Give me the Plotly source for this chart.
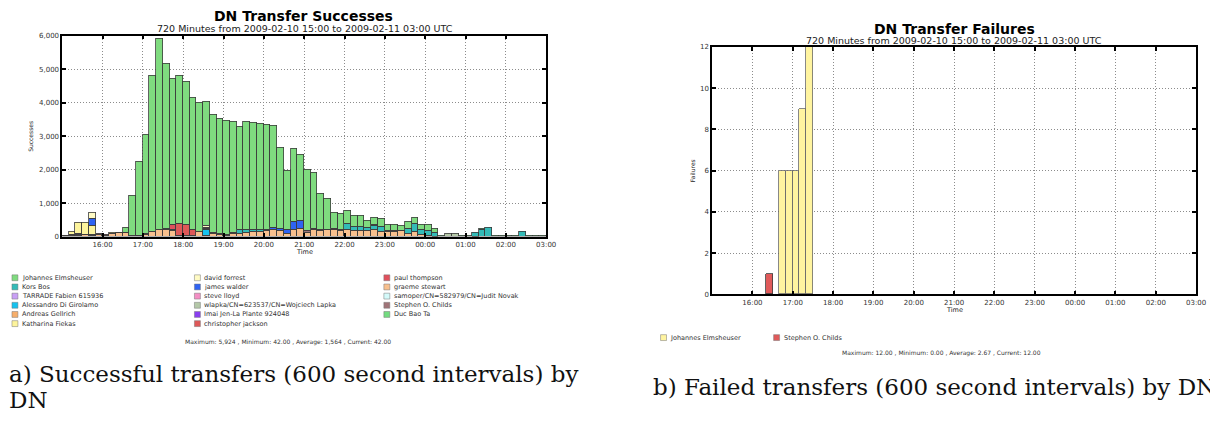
import pandas as pd
import plotly.graph_objects as go

# page is 1218x423; the browser adds an 8px body margin, so the figure is drawn 8px in
PAGE_W, PAGE_H = 1218, 423
OFF = 8
W, H = PAGE_W - OFF, PAGE_H - OFF

# ---------------- data: successes, 10-minute bins from 2009-02-10 15:00 ----------------
bin_start = "2009-02-10 15:00"
n_bins = 72
hour_labels = ["16:00", "17:00", "18:00", "19:00", "20:00", "21:00", "22:00",
               "23:00", "00:00", "01:00", "02:00", "03:00"]
y_ticks_a = [0, 1000, 2000, 3000, 4000, 5000, 6000]
y_ticks_b = [0, 2, 4, 6, 8, 10, 12]

johannes = [
    0, 0, 0, 0, 0, 0, 0, 0, 0, 140, 1200, 2210,
    2980, 4660, 5724, 4930, 4360, 4440, 4260, 3955, 3840, 3720, 3523, 3432,
    3392, 3313, 3070, 3220, 3190, 3155, 3110, 3020, 2410, 1780, 2170, 1980,
    1824, 1670, 1070, 916, 500, 490, 380, 320, 330, 210, 190, 240,
    180, 180, 140, 200, 170, 140, 160, 120, 0, 0, 0, 0,
    0, 0, 0, 0, 0, 0, 0, 0, 0, 0, 0, 0]
kors_bos = [
    0, 0, 0, 0, 0, 0, 0, 0, 0, 0, 0, 0,
    0, 0, 0, 40, 0, 0, 0, 0, 0, 0, 0, 0,
    0, 0, 130, 70, 70, 55, 50, 0, 0, 0, 0, 0,
    0, 0, 0, 0, 0, 0, 200, 110, 100, 100, 140, 160,
    0, 0, 20, 150, 250, 150, 170, 100, 0, 0, 0, 0,
    0, 100, 200, 270, 0, 0, 0, 0, 150, 0, 0, 0]
tarrade = [0, 0, 30] + [0] * 69
alessandro = [0] * 16 + [20, 0, 0, 0, 0, 180] + [0] * 50
andreas = [0] * 46 + [30] + [0] * 25
katharina = [0, 100, 320, 335, 270, 0, 0, 25] + [0] * 64
david = [0, 0, 0, 0, 175] + [0] * 16 + [40] + [0] * 50
james = [0, 0, 0, 0, 215] + [0] * 26 + [80, 70, 100, 230, 230] + [0] * 36
steve = [0] * 21 + [30] + [0] * 50
wlapka = [0] * 57 + [78, 78] + [0] * 13
imai = [0, 0, 25] + [0] * 69
christopher = [0] * 17 + [340, 330, 175] + [0] * 52
paul = [0] * 16 + [170] + [0] * 55
graeme = [
    20, 40, 30, 50, 40, 50, 40, 100, 110, 110, 30, 20,
    60, 160, 200, 200, 180, 40, 40, 30, 150, 30, 100, 50,
    40, 80, 80, 130, 150, 150, 170, 200, 180, 100, 220, 250,
    130, 220, 180, 200, 200, 180, 200, 190, 190, 180, 200, 140,
    150, 150, 170, 100, 150, 60, 20, 10, 0, 0, 0, 0,
    0, 0, 0, 0, 0, 0, 0, 0, 0, 0, 0, 0]
samoper = [0] * 21 + [40] + [0] * 50
stephen = [
    20, 20, 0, 20, 15, 30, 20, 0, 15, 10, 0, 20,
    20, 0, 0, 0, 0, 0, 0, 0, 0, 0, 27, 28,
    18, 27, 0, 0, 0, 0, 0, 0, 0, 0, 0, 0,
    36, 30, 40, 24, 30, 30, 0, 0, 0, 0, 0, 0,
    20, 20, 0, 0, 0, 0, 0, 0, 0, 0, 0, 0,
    0, 10, 0, 0, 0, 0, 0, 0, 0, 0, 0, 0]
duc = [0] * 56 + [45, 0, 0, 40, 40, 0, 55, 0, 40, 40, 40, 40, 0, 40, 42, 42]

# ---------------- data: failures ----------------
fail_je_bins = ["16:40", "16:50", "17:00", "17:10", "17:20"]
fail_je_vals = [6, 6, 6, 9, 12]
fail_sc_bins = ["16:20"]
fail_sc_vals = [1]

# (name, colour, values) in legend order (3 columns of 6)
legend_a = [
    ("Johannes Elmsheuser", "#7fdb7f", johannes),
    ("Kors Bos", "#33bbb8", kors_bos),
    ("TARRADE Fabien 615936", "#c9a0f5", tarrade),
    ("Alessandro Di Girolamo", "#16c2ef", alessandro),
    ("Andreas Gellrich", "#f6ae6b", andreas),
    ("Katharina Fiekas", "#fdf49c", katharina),
    ("david forrest", "#fffbc4", david),
    ("james walder", "#2f63f2", james),
    ("steve lloyd", "#f48ec4", steve),
    ("wlapka/CN=623537/CN=Wojciech Lapka", "#b4c8a8", wlapka),
    ("Imai Jen-La Plante 924048", "#8a3ff0", imai),
    ("christopher jackson", "#de5858", christopher),
    ("paul thompson", "#e0505c", paul),
    ("graeme stewart", "#f8c08e", graeme),
    ("samoper/CN=582979/CN=Judit Novak", "#d4fafa", samoper),
    ("Stephen O. Childs", "#a07478", stephen),
    ("Duc Bao Ta", "#73dc80", duc),
]
# bottom-to-top stacking order
stack_order = ["graeme stewart", "Stephen O. Childs", "TARRADE Fabien 615936",
               "Imai Jen-La Plante 924048", "Katharina Fiekas", "Alessandro Di Girolamo",
               "Kors Bos", "james walder", "paul thompson", "christopher jackson",
               "steve lloyd", "samoper/CN=582979/CN=Judit Novak", "david forrest",
               "wlapka/CN=623537/CN=Wojciech Lapka", "Andreas Gellrich", "Duc Bao Ta",
               "Johannes Elmsheuser"]

legend_b = [("Johannes Elmsheuser", "#fff4a0"), ("Stephen O. Childs", "#e05a5a")]


# ---------------- helpers (page pixels -> paper fractions) ----------------
def fx(p):
    return (p - OFF) / W


def fy(p):
    return 1 - (p - OFF) / H


starts = pd.date_range(bin_start, periods=n_bins, freq="10min")
centers = starts + pd.Timedelta(minutes=5)
day0 = "2009-02-10 "
tick_vals = pd.date_range("2009-02-10 16:00", periods=len(hour_labels), freq="1h")
x_range = ["2009-02-10 15:00:00", "2009-02-11 03:00:00"]
BAR_W = 600000
OUTLINE = dict(color="#3c3c3c", width=0.8)

fig = go.Figure()
lookup = {n: (c, v) for n, c, v in legend_a}
for name in stack_order:
    col, vals = lookup[name]
    fig.add_trace(go.Bar(
        x=centers, y=[v if v else None for v in vals], width=BAR_W, name=name,
        marker=dict(color=col, line=OUTLINE), showlegend=False,
        xaxis="x", yaxis="y"))

fail_sc_x = [pd.Timestamp(day0 + t) + pd.Timedelta(minutes=5) for t in fail_sc_bins]
fail_je_x = [pd.Timestamp(day0 + t) + pd.Timedelta(minutes=5) for t in fail_je_bins]
fig.add_trace(go.Bar(x=fail_sc_x, y=fail_sc_vals, width=BAR_W, name="Stephen O. Childs",
                     marker=dict(color=legend_b[1][1], line=OUTLINE), showlegend=False,
                     xaxis="x2", yaxis="y2"))
fig.add_trace(go.Bar(x=fail_je_x, y=fail_je_vals, width=BAR_W, name="Johannes Elmsheuser",
                     marker=dict(color=legend_b[0][1], line=dict(color="#6a6a6a", width=0.8)),
                     showlegend=False, xaxis="x2", yaxis="y2"))

TICKFONT = dict(family="DejaVu Sans", size=7, color="#333")
GRID = dict(showgrid=True, gridcolor="#8c8c8c", gridwidth=0.8, griddash="1px,2px")
common_x = dict(type="date", range=x_range, tickvals=tick_vals, ticktext=hour_labels,
                ticks="inside", ticklen=4, tickwidth=2, tickcolor="black",
                showline=True, linewidth=1.6, linecolor="black", mirror="ticks",
                tickfont=TICKFONT, zeroline=False, fixedrange=True, **GRID)
common_y = dict(ticks="inside", ticklen=4, tickwidth=2, tickcolor="black",
                showline=True, linewidth=1.6, linecolor="black", mirror="ticks",
                tickfont=TICKFONT, zeroline=False, fixedrange=True, **GRID)

fig.update_layout(
    width=W, height=H, autosize=False,
    margin=dict(l=0, r=0, t=0, b=0),
    paper_bgcolor="white", plot_bgcolor="white",
    barmode="stack", bargap=0, showlegend=False,
    xaxis=dict(domain=[fx(62.7), fx(550.7)], anchor="y", **common_x),
    yaxis=dict(domain=[fy(237), fy(32)], anchor="x", range=[0, 6000],
               tickvals=y_ticks_a, tickformat=",d", **common_y),
    xaxis2=dict(domain=[fx(718), fx(1206)], anchor="y2", **common_x),
    yaxis2=dict(domain=[fy(296), fy(43.7)], anchor="x2", range=[0, 12],
                tickvals=y_ticks_b, **common_y),
)

ann = []
shapes = []


def text(x, y, s, size, family="DejaVu Sans", color="#222", xanchor="center", angle=0):
    ann.append(dict(x=fx(x), y=fy(y), xref="paper", yref="paper", text=s, showarrow=False,
                    xanchor=xanchor, yanchor="middle", textangle=angle, borderpad=0,
                    font=dict(family=family, size=size, color=color)))


subtitle = "720 Minutes from 2009-02-10 15:00 to 2009-02-11 03:00 UTC"
text(306, 12.5, "<b>DN Transfer Successes</b>", 14, color="#000")
text(307, 25, subtitle, 9.5)
text(962, 25, "<b>DN Transfer Failures</b>", 14, color="#000")
text(962, 37.5, subtitle, 9.5)
text(30.5, 135, "Successes", 6, angle=-90)
text(699, 170, "Failures", 6, angle=-90)
text(307, 253, "Time", 6.5)
text(962, 312, "Time", 6.5)

# legend a (3 columns x 6 rows)
col_sq = [12, 196, 387]
for i, (name, col, _) in enumerate(legend_a):
    c, r = divmod(i, 6)
    yc = 279 + r * 9.35
    x0 = col_sq[c]
    shapes.append(dict(type="rect", xref="paper", yref="paper",
                       x0=fx(x0), x1=fx(x0 + 6), y0=fy(yc + 3), y1=fy(yc - 3),
                       fillcolor=col, line=dict(color="#777", width=0.5)))
    text(x0 + 9, yc, name, 6.5, xanchor="left", color="#333")

# legend b
for (name, col), x0 in zip(legend_b, [666, 780]):
    yc = 340
    shapes.append(dict(type="rect", xref="paper", yref="paper",
                       x0=fx(x0), x1=fx(x0 + 6), y0=fy(yc + 3), y1=fy(yc - 3),
                       fillcolor=col, line=dict(color="#777", width=0.5)))
    text(x0 + 9, yc, name, 6.5, xanchor="left", color="#333")

text(290, 344, "Maximum: 5,924 , Minimum: 42.00 , Average: 1,564 , Current: 42.00", 6, color="#333")
text(949, 356, "Maximum: 12.00 , Minimum: 0.00 , Average: 2.67 , Current: 12.00", 6, color="#333")

text(8, 377, "a) Successful transfers (600 second intervals) by", 23, family="DejaVu Serif",
     color="#111", xanchor="left")
text(8, 404, "DN", 23, family="DejaVu Serif", color="#111", xanchor="left")
text(657, 390, "b) Failed transfers (600 second intervals) by DN", 23, family="DejaVu Serif",
     color="#111", xanchor="left")

fig.update_layout(annotations=ann, shapes=shapes)
fig.write_html("out.html")
